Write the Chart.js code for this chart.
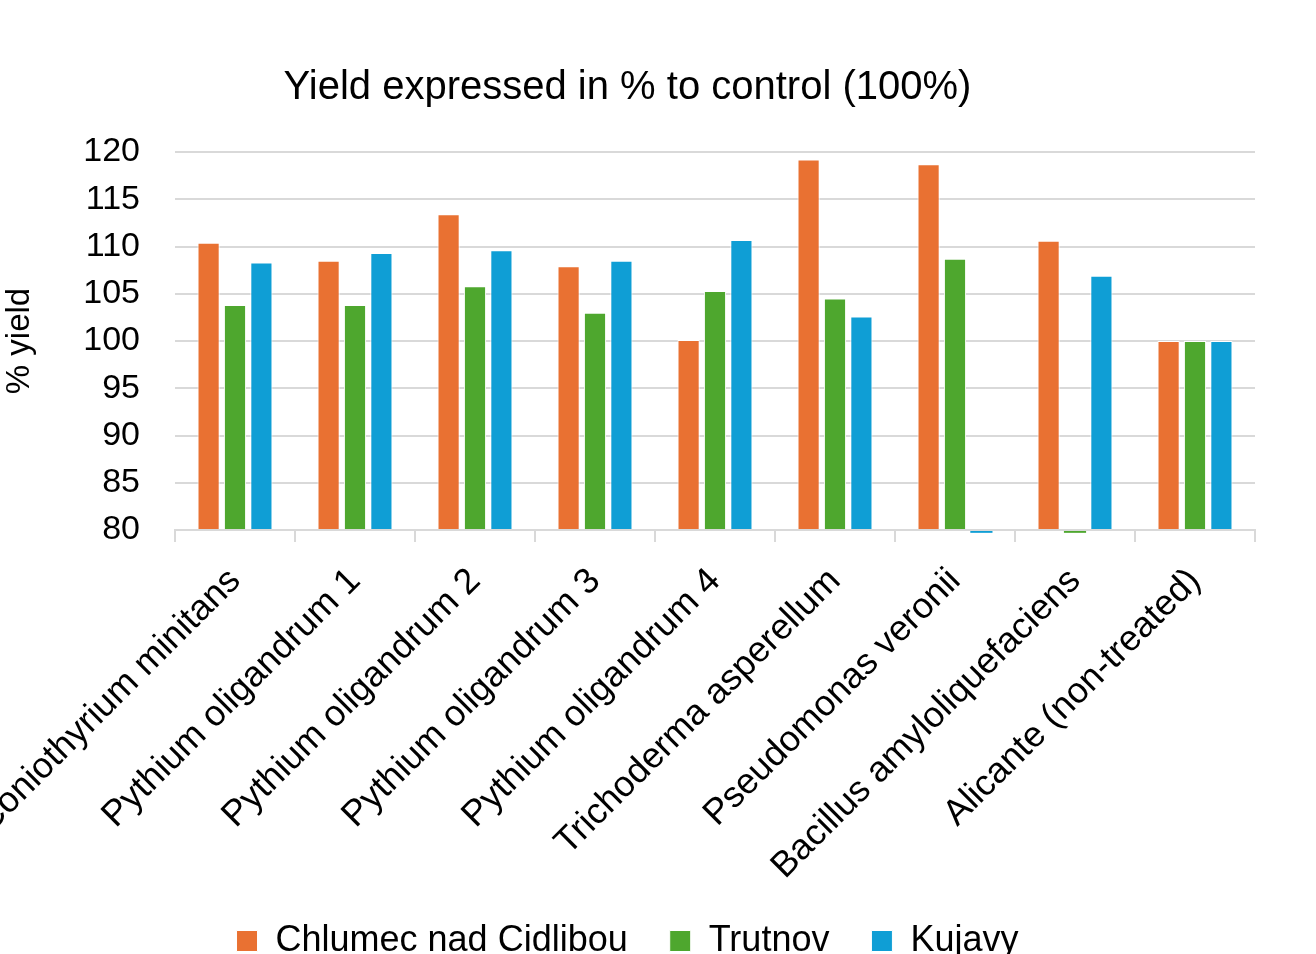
<!DOCTYPE html>
<html>
<head>
<meta charset="utf-8">
<script src="https://cdn.jsdelivr.net/npm/chart.js@4"></script>
<style>
  html, body { margin: 0; padding: 0; overflow: hidden; background: #fff; }
  #wrap { width: 1316px; height: 969px; position: relative; }
</style>
</head>
<body>
<div id="wrap"><canvas id="chart"></canvas></div>
<script>
const categories = [
  'Coniothyrium minitans',
  'Pythium oligandrum 1',
  'Pythium oligandrum 2',
  'Pythium oligandrum 3',
  'Pythium oligandrum 4',
  'Trichoderma asperellum',
  'Pseudomonas veronii',
  'Bacillus amyloliquefaciens',
  'Alicante (non-treated)'
]
const chlumec = [110.4, 108.5, 113.4, 107.9, 100.1, 119.2, 118.7, 110.6, 100]
const trutnov = [103.8, 103.8, 105.8, 103.0, 105.3, 104.5, 108.7, 79.7, 100]
const kujavy = [108.3, 109.3, 109.6, 108.5, 110.7, 102.6, 79.7, 106.9, 100]
const yTicks = [80, 85, 90, 95, 100, 105, 110, 115, 120]

const font = 'Liberation Sans, Arial, sans-serif'
const gridColor = '#d9d9d9'

function bar(label, data, color) {
  return {
    label: label,
    data: data,
    base: 80,
    backgroundColor: color,
    borderColor: '#ffffff',
    // the tiny bars below the axis get no white edge, else they vanish
    borderWidth: ctx => (ctx.raw < 80 ? 0 : 1),
    clip: false,
    categoryPercentage: 0.66,
    barPercentage: 0.84,
  }
}

new Chart(document.getElementById('chart').getContext('2d'), {
  type: 'bar',
  data: {
    labels: categories,
    datasets: [
      bar('Chlumec nad Cidlibou', chlumec, '#E97132'),
      bar('Trutnov', trutnov, '#4EA72E'),
      bar('Kujavy', kujavy, '#0F9ED5'),
    ],
  },
  options: {
    responsive: true,
    maintainAspectRatio: false,
    animation: false,
    layout: {
      padding: {left: 0, right: 61, top: 0, bottom: 0}
    },
    plugins: {
      title: {
        display: true,
        text: 'Yield expressed in % to control (100%)',
        color: '#000',
        font: {family: font, size: 40, weight: 'normal'},
        padding: {top: 64, bottom: 40},
      },
      legend: {
        position: 'bottom',
        labels: {
          color: '#000',
          font: {family: font, size: 36},
          boxWidth: 21,
          boxHeight: 21,
          padding: 42,
        },
      },
      tooltip: {enabled: false},
    },
    scales: {
      x: {
        grid: {
          offset: true,
          drawOnChartArea: false,
          drawTicks: true,
          tickLength: 12,
          color: gridColor,
          lineWidth: 2,
        },
        border: {color: gridColor, width: 2},
        ticks: {
          color: '#000',
          font: {family: font, size: 36},
          minRotation: 45,
          maxRotation: 45,
          autoSkip: false,
          padding: 18,
        },
        afterFit(scale) {
          scale.paddingLeft = 0
          scale.paddingRight = 0
          scale.height = 351
        },
      },
      y: {
        min: 80,
        max: 120,
        afterBuildTicks(scale) {
          scale.ticks = yTicks.map(v => ({value: v}))
        },
        grid: {color: gridColor, lineWidth: 2, drawTicks: false},
        border: {display: false},
        ticks: {
          color: '#000',
          font: {family: font, size: 34},
          padding: 35,
        },
        title: {
          display: true,
          text: '% yield',
          color: '#000',
          font: {family: font, size: 33},
          padding: 0,
        },
        afterFit(scale) {
          scale.width = 175
        },
      },
    },
  },
})
</script>
</body>
</html>
